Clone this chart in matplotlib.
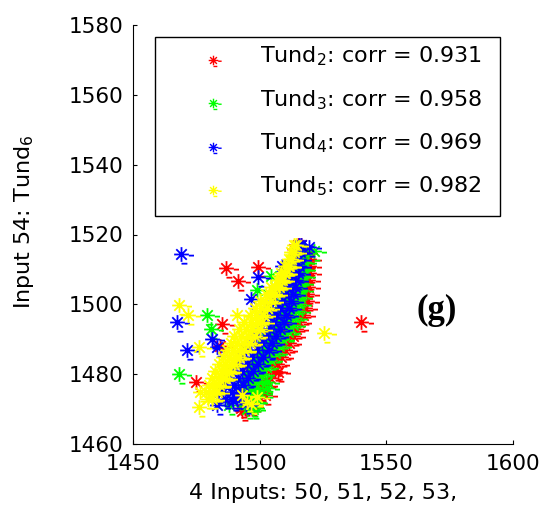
import matplotlib
matplotlib.use("Agg")
import matplotlib.pyplot as plt
from matplotlib.path import Path

# ---------------- data ----------------
labels = ["Tund$_2$: corr = 0.931", "Tund$_3$: corr = 0.958",
          "Tund$_4$: corr = 0.969", "Tund$_5$: corr = 0.982"]
colors = ["#ff0000", "#00ff00", "#0000ff", "#ffff00"]

# dense band: each row = (y, [x values])
red_rows = [
    (1517, [1515, 1516.5]), (1515, [1516, 1518]), (1513, [1515.5, 1517.5, 1519.5]),
    (1511, [1514.5, 1517, 1519.5]), (1509, [1513.5, 1516.5, 1519.5]),
    (1507, [1512.5, 1516, 1519]), (1505, [1511.5, 1515.5, 1519]),
    (1503, [1510.5, 1514.5, 1518.5]), (1501, [1509.5, 1513.5, 1518.5]),
    (1499, [1508.5, 1512.5, 1518]), (1497, [1507.5, 1511.5, 1517]),
    (1495, [1506.5, 1510.5, 1515.5]), (1493, [1505, 1509, 1514.5]),
    (1491, [1503.5, 1507.5, 1513]), (1489, [1502, 1506, 1511.5]),
    (1487, [1500.5, 1504.5, 1510]), (1485, [1499, 1503, 1508.5]),
    (1483, [1497, 1501.5, 1507]), (1481, [1495.5, 1500, 1506]),
    (1479, [1494.5, 1498.5, 1504]), (1477, [1494, 1497.5, 1502]),
    (1475, [1494, 1497, 1500]), (1473, [1494.5, 1497.5]), (1471, [1494, 1496.5]),
]
green_rows = [
    (1516, [1515, 1516]), (1514, [1515, 1516.5]), (1512, [1514.5, 1516.5, 1517.5]),
    (1510, [1514, 1516, 1517]), (1508, [1513, 1515.5, 1517]),
    (1506, [1512, 1514.5, 1516.5]), (1504, [1511, 1514, 1516.5]),
    (1502, [1510, 1513, 1516]), (1500, [1509, 1512, 1515.5]),
    (1498, [1508, 1511, 1515]), (1496, [1507, 1510, 1514]),
    (1494, [1506, 1509, 1513]), (1492, [1504.5, 1507.5, 1511]),
    (1490, [1503, 1506, 1509]), (1488, [1501.5, 1504.5, 1507.5]),
    (1486, [1500, 1503, 1506]), (1484, [1498, 1501, 1504]),
    (1482, [1496.5, 1499.5, 1502.5]), (1480, [1495, 1498, 1501]),
    (1478, [1493.5, 1496.5, 1499.5]), (1476, [1493, 1495.5, 1498]),
    (1474, [1493, 1495.5, 1497.5]), (1472, [1494, 1496.5, 1498]), (1470, [1495, 1497.5]),
]
blue_rows = [
    (1517, [1515.5, 1516.5]), (1515, [1514.5, 1516]), (1513, [1513.5, 1515.5]),
    (1511, [1512, 1514, 1515.5]), (1509, [1510.5, 1512.5, 1515]),
    (1507, [1509.5, 1512, 1514.5]), (1505, [1508, 1511, 1514]),
    (1503, [1506.5, 1510, 1513]), (1501, [1505, 1509, 1512.5]),
    (1499, [1504, 1508, 1511.5]), (1497, [1502.5, 1506.5, 1510.5]),
    (1495, [1501.5, 1505.5, 1509.5]), (1493, [1500, 1504, 1508]),
    (1491, [1498.5, 1502.5, 1506.5]), (1489, [1496.5, 1501, 1505]),
    (1487, [1494.5, 1499, 1503.5]), (1485, [1492.5, 1497, 1501.5]),
    (1483, [1490.5, 1495, 1499.5]), (1481, [1488.5, 1493, 1497.5]),
    (1479, [1487, 1491.5, 1495.5]), (1477, [1486, 1490, 1493.5]),
    (1475, [1485.5, 1489, 1491.5]), (1473, [1486.5, 1489]),
]
yellow_rows = [
    (1517, [1513.5, 1514.5]), (1515, [1512.5, 1513.5]), (1513, [1511.5, 1512.5]),
    (1511, [1510, 1511, 1511.5]), (1509, [1508.5, 1509.5, 1510]),
    (1507, [1507, 1508, 1509]), (1505, [1504.5, 1506, 1507.5]),
    (1503, [1502.5, 1504, 1506]), (1501, [1500, 1502, 1504.5]),
    (1499, [1498, 1500.5, 1503]), (1497, [1496, 1498.5, 1501.5]),
    (1495, [1494, 1496.5, 1499, 1501]), (1493, [1492, 1494.5, 1497, 1500]),
    (1491, [1490, 1492.5, 1495.5, 1498]), (1489, [1488.5, 1491, 1494, 1496]),
    (1487, [1487, 1489.5, 1492, 1494]), (1485, [1485.5, 1488, 1490.5, 1492]),
    (1483, [1484, 1486.5, 1488.5, 1490]), (1481, [1482.5, 1485, 1487, 1488]),
    (1479, [1481, 1483.5, 1485.5, 1486.5]), (1477, [1480, 1482, 1484]),
    (1475, [1479, 1481, 1483]), (1473, [1479.5, 1481]),
]

# scattered points outside the band
red_extra_x = [1486.8, 1499.3, 1491.4, 1485.1, 1484.5, 1474.8, 1492.6, 1507.4, 1540.0, 1513.4, 1493.0, 1498.0, 1502.0]
red_extra_y = [1510.5, 1510.7, 1506.7, 1494.5, 1488.0, 1477.8, 1470.2, 1480.7, 1494.8, 1515.9, 1469.5, 1472.0, 1474.0]
green_extra_x = [1504.4, 1498.9, 1479.4, 1480.7, 1468.2, 1487.7, 1502.8, 1521.3, 1495.0, 1500.0, 1497.0, 1503.0]
green_extra_y = [1508.0, 1504.0, 1496.9, 1492.9, 1480.0, 1471.1, 1477.8, 1515.4, 1473.0, 1474.5, 1470.5, 1476.0]
blue_extra_x = [1469.0, 1499.5, 1508.8, 1496.5, 1467.5, 1481.2, 1483.1, 1471.5, 1483.1, 1483.7, 1489.4, 1519.3, 1491.0, 1494.5]
blue_extra_y = [1514.5, 1507.8, 1510.9, 1501.6, 1494.8, 1490.0, 1487.8, 1486.9, 1471.1, 1474.5, 1472.4, 1516.4, 1473.0, 1471.5]
yellow_extra_x = [1468.2, 1471.9, 1476.2, 1476.1, 1476.5, 1494.9, 1525.2, 1491.0, 1493.0, 1496.5, 1499.0]
yellow_extra_y = [1499.7, 1496.9, 1487.8, 1470.7, 1475.0, 1472.1, 1491.8, 1496.9, 1474.0, 1471.5, 1473.5]

x_ticks = [1450, 1500, 1550, 1600]
y_ticks = [1460, 1480, 1500, 1520, 1540, 1560, 1580]
x_label = "4 Inputs: 50, 51, 52, 53,"
y_label = "Input 54: Tund$_6$"
panel_label = "(g)"

# ---------------- helpers ----------------
def flatten(rows, ex_x, ex_y):
    xs, ys = [], []
    for yv, xl in rows:
        for xv in xl:
            xs.append(xv)
            ys.append(yv)
    return xs + list(ex_x), ys + list(ex_y)

series = [
    flatten(red_rows, red_extra_x, red_extra_y),
    flatten(green_rows, green_extra_x, green_extra_y),
    flatten(blue_rows, blue_extra_x, blue_extra_y),
    flatten(yellow_rows, yellow_extra_x, yellow_extra_y),
]

# MATLAB-like asterisk marker with small render artefacts
d = 0.71
verts = [(-1, 0), (1, 0), (0, -1), (0, 1), (-d, -d), (d, d), (-d, d), (d, -d),
         (1.0, -0.15), (1.7, -0.15), (0.0, -1.25), (0.8, -1.25)]
codes = [Path.MOVETO, Path.LINETO] * 6
star = Path(verts, codes)

# ---------------- plot ----------------
plt.rcParams["font.family"] = ["DejaVu Sans"]
fig = plt.figure(figsize=(5.44, 5.07), dpi=100)
ax = fig.add_axes([133 / 544, 63 / 507, 380 / 544, 419 / 507])

for (xs, ys), c, lab in zip(series, colors, labels):
    ax.plot(xs, ys, linestyle="none", marker=star, markersize=18,
            markerfacecolor="none", markeredgecolor=c, markeredgewidth=1.3,
            label=lab)

ax.set_xlim(1450, 1600)
ax.set_ylim(1460, 1580)
ax.set_xticks(x_ticks)
ax.set_yticks(y_ticks)
ax.spines["top"].set_visible(False)
ax.spines["right"].set_visible(False)
for s in ("left", "bottom"):
    ax.spines[s].set_linewidth(0.8)
ax.tick_params(direction="in", length=3, width=0.8, labelsize=15.5, pad=7)

ax.set_xlabel(x_label, fontsize=16, labelpad=7)
ax.set_ylabel(y_label, fontsize=16)
ax.yaxis.set_label_coords(-0.255, 0.53)

ax.text(1570, 1498.3, panel_label, fontsize=25, fontweight="bold",
        family="Liberation Serif", ha="center", va="center")

leg = ax.legend(loc="upper left", bbox_to_anchor=(0.058, 0.544, 0.908, 0.427),
                mode="expand", fontsize=16, markerscale=0.65, numpoints=1,
                handlelength=4.12, handletextpad=0.04, borderpad=0.56,
                labelspacing=0.89, fancybox=False, framealpha=1, borderaxespad=0)
leg.get_frame().set_edgecolor("black")
leg.get_frame().set_linewidth(1.0)
for h in leg.legend_handles:
    h.set_markeredgewidth(1.0)
for t in leg.get_texts():
    t.set_y(5)

fig.savefig("out.png", dpi=100, facecolor="white")
